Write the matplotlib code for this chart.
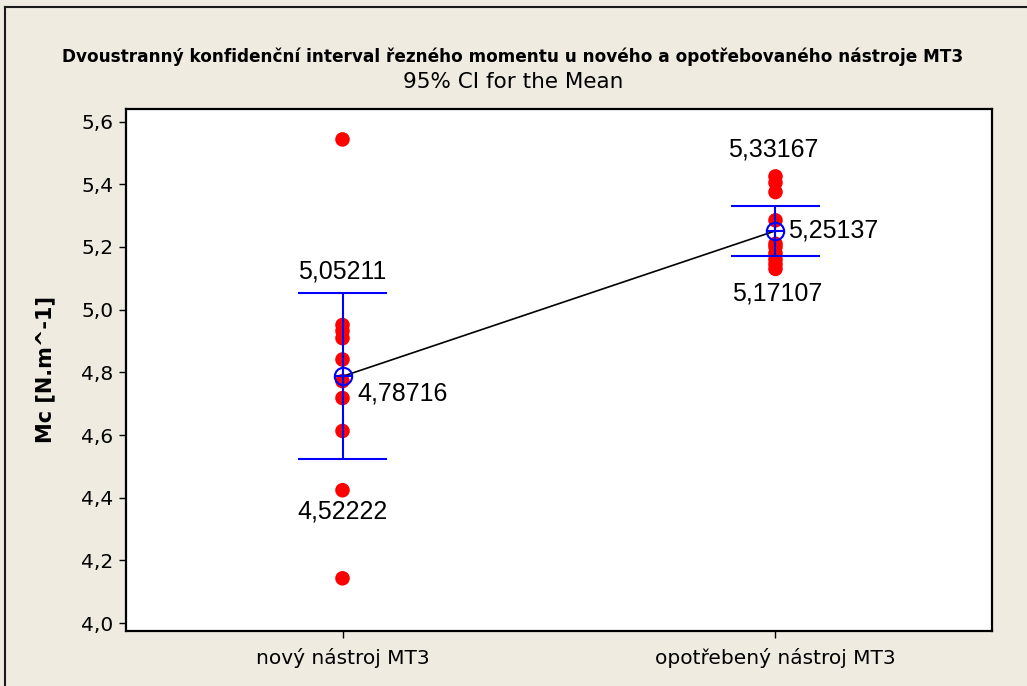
"""Two-sided 95% confidence interval of cutting torque, new vs. worn MT3 tool."""
import matplotlib
matplotlib.use("Agg")
import matplotlib.pyplot as plt
from matplotlib.lines import Line2D
from matplotlib.ticker import FuncFormatter, FixedLocator

# groups on the x axis
groups = ["nový nástroj MT3", "opotřebený nástroj MT3"]

# individual observations Mc [N.m^-1]
new_tool = [5.543, 4.951, 4.932, 4.909, 4.841, 4.772, 4.718, 4.613, 4.424, 4.143]
worn_tool = [5.425, 5.405, 5.375, 5.285, 5.21, 5.20, 5.18, 5.16, 5.145, 5.13]

# 95% CI for the mean (lower, mean, upper)
ci_low = [4.52222, 5.17107]
ci_mean = [4.78716, 5.25137]
ci_high = [5.05211, 5.33167]

yticks = [4.0, 4.2, 4.4, 4.6, 4.8, 5.0, 5.2, 5.4, 5.6]

BG = "#EFEBE1"
BLUE = "#0000FF"
RED = "#FF0000"

fig = plt.figure(figsize=(10.27, 6.86), dpi=100)
fig.patch.set_facecolor(BG)
ax = fig.add_axes([0.1227, 0.0802, 0.8432, 0.7609])
ax.set_facecolor("white")

xs = [1, 2]

# raw data points
for x, vals in zip(xs, [new_tool, worn_tool]):
    ax.scatter([x] * len(vals), vals, s=110, color=RED, edgecolors="none", zorder=2)

# confidence interval bars
cap = 0.102
for x, lo, hi in zip(xs, ci_low, ci_high):
    ax.vlines(x, lo, hi, color=BLUE, linewidth=1.5, zorder=3)
    ax.hlines([lo, hi], x - cap, x + cap, color=BLUE, linewidth=1.5, zorder=3)

# line connecting the means
ax.plot(xs, ci_mean, color="black", linewidth=1.2, zorder=3)

# mean symbol: open circle with a cross
ax.plot(xs, ci_mean, linestyle="none", marker="o", markersize=12.5,
        markerfacecolor="none", markeredgecolor=BLUE, markeredgewidth=1.5, zorder=4)
ax.plot(xs, ci_mean, linestyle="none", marker="+", markersize=12.5,
        markeredgecolor=BLUE, markeredgewidth=1.5, zorder=4)

def fmt(v):
    return f"{v:.5f}".replace(".", ",")

label_kw = dict(textcoords="offset pixels", fontsize=18, family="Liberation Sans",
                color="black", zorder=5)

# value labels (offsets in pixels)
ax.annotate(fmt(ci_high[0]), (xs[0], ci_high[0]), xytext=(0, 22), ha="center", va="center", **label_kw)
ax.annotate(fmt(ci_low[0]), (xs[0], ci_low[0]), xytext=(0, -52), ha="center", va="center", **label_kw)
ax.annotate(fmt(ci_mean[0]), (xs[0], ci_mean[0]), xytext=(15, -17), ha="left", va="center", **label_kw)
ax.annotate(fmt(ci_high[1]), (xs[1], ci_high[1]), xytext=(-2, 56), ha="center", va="center", **label_kw)
ax.annotate(fmt(ci_low[1]), (xs[1], ci_low[1]), xytext=(2, -37), ha="center", va="center", **label_kw)
ax.annotate(fmt(ci_mean[1]), (xs[1], ci_mean[1]), xytext=(13, 0), ha="left", va="center", **label_kw)

ax.set_xlim(0.5, 2.5)
ax.set_ylim(3.975, 5.64)
ax.set_xticks(xs)
ax.set_xticklabels(groups)
ax.yaxis.set_major_locator(FixedLocator(yticks))
ax.yaxis.set_major_formatter(FuncFormatter(lambda v, _: f"{v:.1f}".replace(".", ",")))

ax.tick_params(axis="both", direction="out", length=5, width=1, colors="black",
               labelsize=14.5)
ax.tick_params(axis="y", pad=4)
ax.tick_params(axis="x", pad=7)
for spine in ax.spines.values():
    spine.set_linewidth(1.6)
    spine.set_color("black")

# titles and axis label
fig.text(0.4995, 0.917, "Dvoustranný konfidenční interval řezného momentu u nového a opotřebovaného nástroje MT3",
         ha="center", va="center", fontsize=12.2, fontweight="bold")
fig.text(0.4995, 0.880, "95% CI for the Mean", ha="center", va="center", fontsize=15.5)
fig.text(0.044, 0.4607, "Mc [N.m^-1]", rotation=90, ha="center", va="center",
         fontsize=15, fontweight="bold")

# outer frame (top and left edges)
fig.add_artist(Line2D([5 / 1027, 1], [1 - 7 / 686, 1 - 7 / 686], color="#1a1a1a", linewidth=1.5))
fig.add_artist(Line2D([5 / 1027, 5 / 1027], [0, 1 - 7 / 686], color="#1a1a1a", linewidth=1.5))

fig.savefig("out.png", dpi=100, facecolor=BG)
